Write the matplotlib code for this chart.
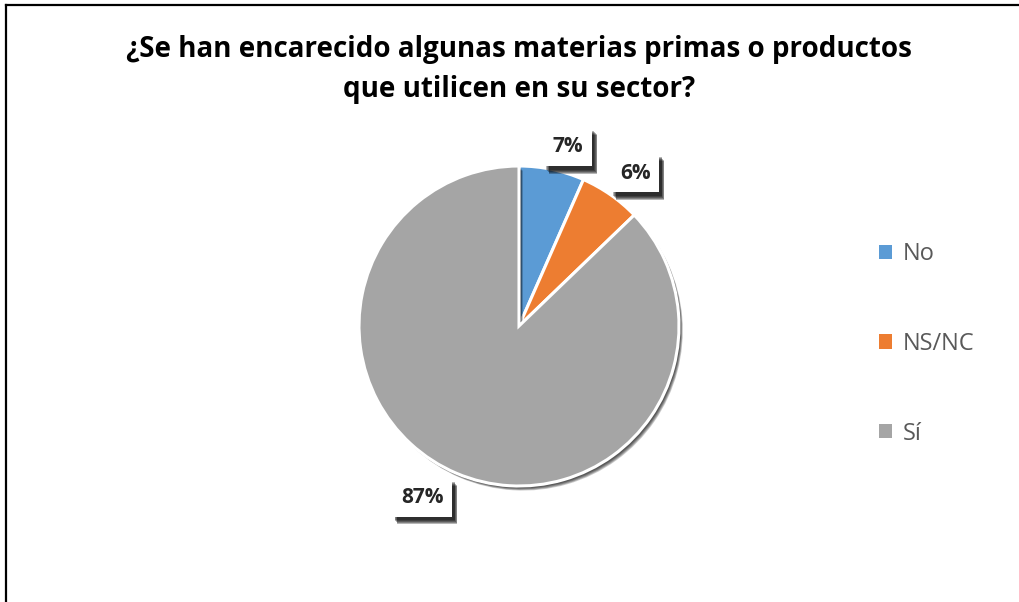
import numpy as np
import matplotlib
matplotlib.use("Agg")
import matplotlib.pyplot as plt
import matplotlib.patheffects as pe
from matplotlib.lines import Line2D

# data
categories = ["No", "NS/NC", "Sí"]
shares = [6.6, 6.2, 87.2]
colors = ["#5B9BD5", "#ED7D31", "#A5A5A5"]
title = "¿Se han encarecido algunas materias primas o productos\nque utilicen en su sector?"

# label placement (angle in degrees, radius in pie units)
label_angles = [74.7, 52.8, -119.5]
label_radii = [1.16, 1.20, 1.23]

W, H = 1020, 602
fig = plt.figure(figsize=(W / 100, H / 100), dpi=100)
fig.patch.set_facecolor("white")


def soft_shadow(dx, dy, alpha, steps=5):
    # stack a few offset shadows to fake a blur
    effects = []
    for k in range(steps):
        s = 0.5 + 0.6 * k / max(steps - 1, 1)
        effects.append(pe.SimplePatchShadow(offset=(dx * s, dy * s), shadow_rgbFace="black",
                                            alpha=alpha / steps * 1.6))
    return effects + [pe.Normal()]


# pie axes: centre (519, 326) px, radius 160 px
cx, cy, r = 519, 326, 160
ax = fig.add_axes([(cx - r) / W, (H - cy - r) / H, 2 * r / W, 2 * r / H])
wedges, _ = ax.pie(shares, colors=colors, startangle=90, counterclock=False,
                   wedgeprops=dict(edgecolor="white", linewidth=2.2))
for w in wedges:
    w.set_path_effects(soft_shadow(2.5, -3.0, 0.6))
ax.set_xlim(-1, 1)
ax.set_ylim(-1, 1)
ax.set_aspect("equal")
ax.axis("off")

for val, ang, rad in zip(shares, label_angles, label_radii):
    t = np.deg2rad(ang)
    txt = ax.text(rad * np.cos(t), rad * np.sin(t), f"{val:.0f}%", ha="center", va="center",
                  fontsize=15, fontweight="bold", family="Open Sans", color="#262626",
                  bbox=dict(boxstyle="square,pad=0.42", facecolor="white", edgecolor="none"),
                  clip_on=False)
    txt.get_bbox_patch().set_path_effects(soft_shadow(3.5, -5.0, 0.9))

fig.text(519 / W, 1 - 69 / H, title, ha="center", va="center", fontsize=20,
         fontweight="bold", family="Open Sans", color="#000000", linespacing=1.5)

# legend
handles = [plt.Rectangle((0, 0), 1, 1, facecolor=c, edgecolor="none") for c in colors]
leg = fig.legend(handles, categories, loc="upper left", bbox_to_anchor=(858 / W, 1 - 221 / H),
                 frameon=False, handlelength=0.55, handleheight=0.55, handletextpad=0.45,
                 labelspacing=2.78, prop=dict(family="Open Sans", size=17))
for t in leg.get_texts():
    t.set_color("#595959")

# outer border (top and left)
fig.add_artist(Line2D([6 / W, 1], [1 - 5 / H, 1 - 5 / H], color="black", lw=1.6, transform=fig.transFigure))
fig.add_artist(Line2D([6 / W, 6 / W], [0, 1 - 5 / H], color="black", lw=1.6, transform=fig.transFigure))

fig.savefig("out.png", dpi=100)
